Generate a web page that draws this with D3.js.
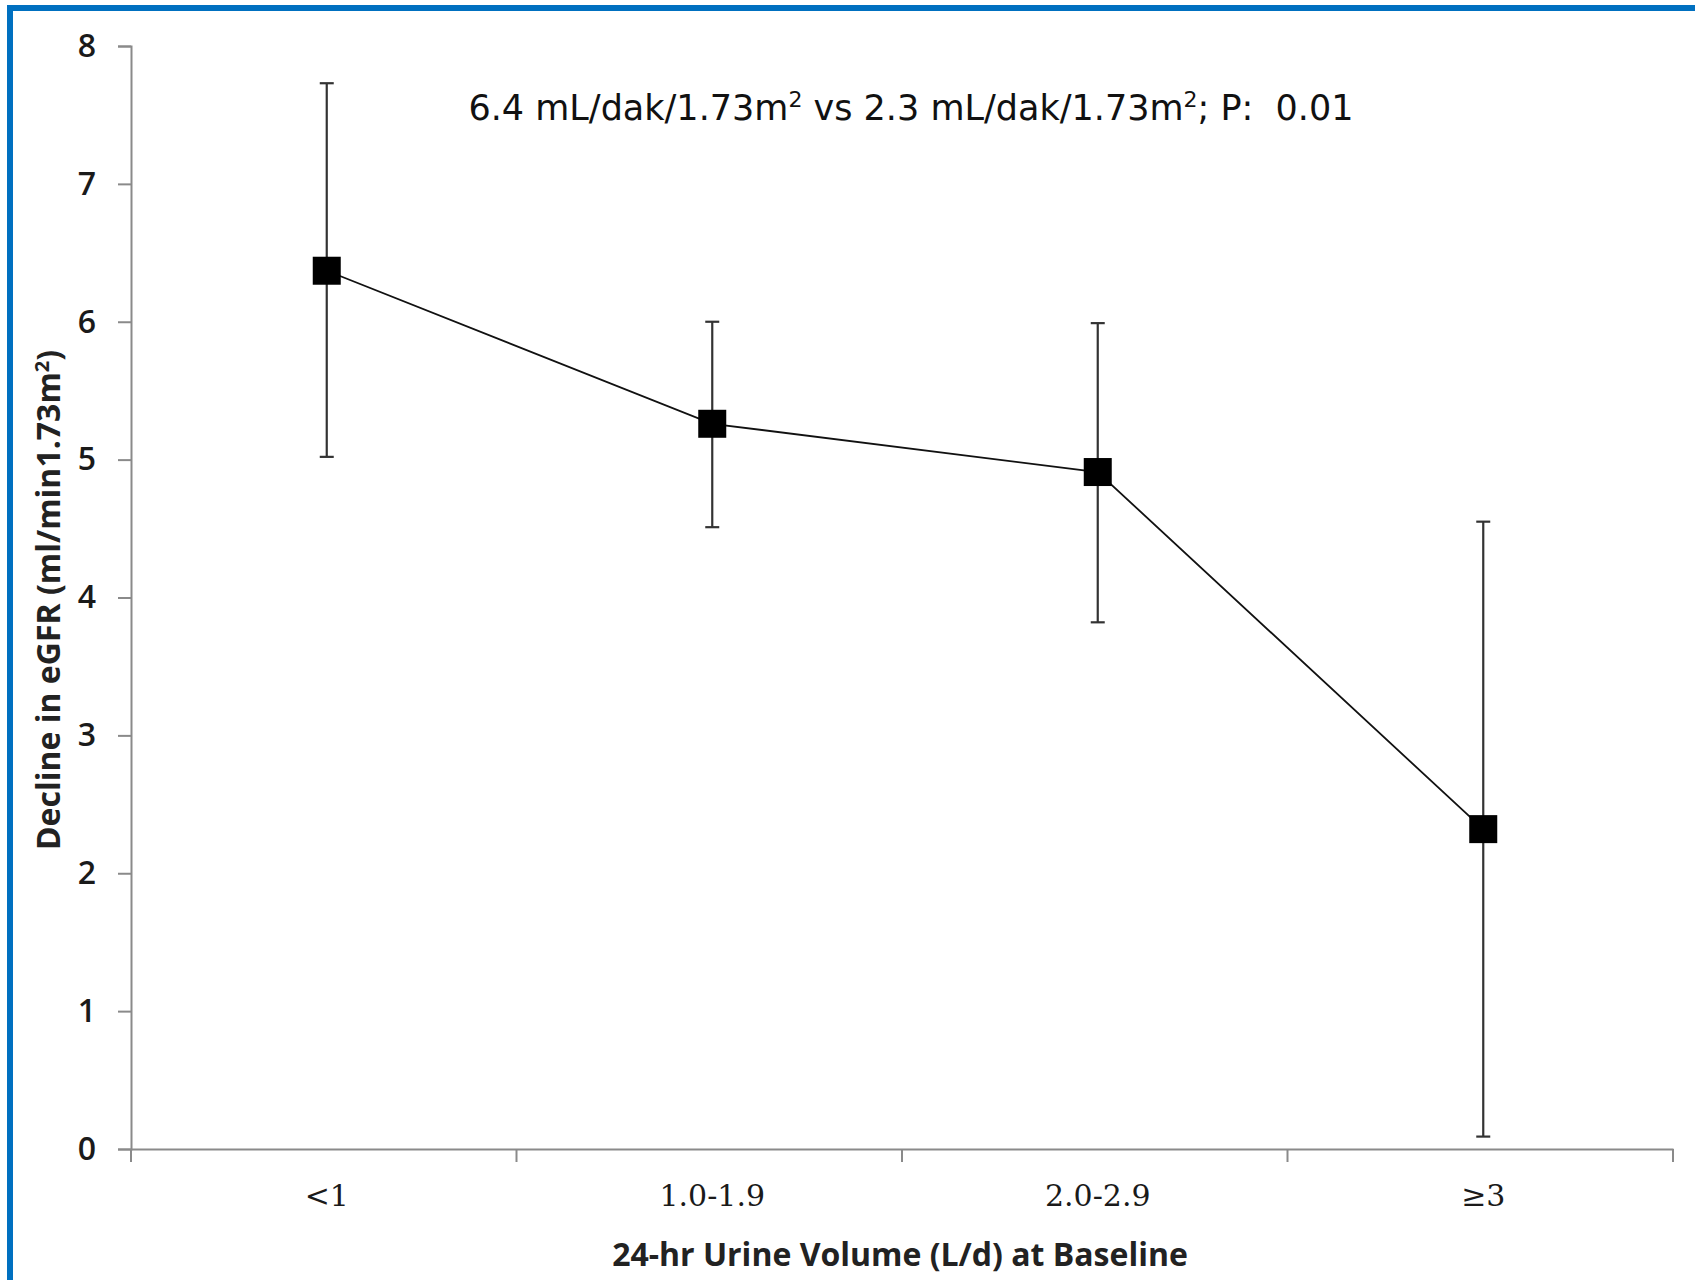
<!doctype html>
<html>
  <head>
    <script src="https://cdnjs.cloudflare.com/ajax/libs/d3/7.8.5/d3.min.js"></script>
    <style>
      body { margin: 0; background: #fff; }
    </style>
  </head>
  <body>
    <svg style="height: 1280px; width: 1695px;"></svg>

    <script>
        var categories = ["<1", "1.0-1.9", "2.0-2.9", "\u22653"];
        var means = [6.37, 5.26, 4.91, 2.32];
        var upper = [7.73, 6.0, 5.99, 4.55];
        var lower = [5.02, 4.51, 3.82, 0.09];
        var yTicks = [0, 1, 2, 3, 4, 5, 6, 7, 8];

        var data = categories.map((c, i) => ({cat: c, mean: means[i], hi: upper[i], lo: lower[i]}));

        var svg = d3.select("svg");

        // blue frame, runs off the right and bottom edge
        svg.append("rect")
            .attr("x", 10).attr("y", 8)
            .attr("width", 1720).attr("height", 1320)
            .attr("fill", "none")
            .attr("stroke", "#0070c0")
            .attr("stroke-width", 6);

        var plotLeft = 131, plotRight = 1673, plotTop = 46, plotBottom = 1149;

        var x = d3.scaleBand().domain(categories).range([plotLeft, plotRight]);
        var y = d3.scaleLinear().domain([0, 8]).range([plotBottom, plotTop]);

        // y axis
        var yAxis = svg.append("g")
            .attr("transform", `translate(${plotLeft},0)`)
            .call(d3.axisLeft(y).tickValues(yTicks).tickSize(13).tickPadding(22).tickFormat(d3.format("d")));
        yAxis.select(".domain").attr("stroke", "#8a8a8a").attr("stroke-width", 2);
        yAxis.selectAll(".tick line").attr("stroke", "#8a8a8a").attr("stroke-width", 2);
        yAxis.selectAll("text")
            .attr("fill", "#1a1a1a")
            .style("font-family", "'Open Sans', sans-serif")
            .style("font-weight", "600")
            .style("font-size", "32px");

        // x axis with ticks at category boundaries
        var xAxis = svg.append("g")
            .attr("transform", `translate(0,${plotBottom})`)
            .call(d3.axisBottom(x).tickSize(0).tickPadding(36));
        xAxis.select(".domain").attr("stroke", "#8a8a8a").attr("stroke-width", 2);
        xAxis.selectAll("text")
            .attr("fill", "#1a1a1a")
            .attr("dx", 3)
            .style("font-family", "'DejaVu Serif', serif")
            .style("font-size", "30px");
        var bounds = categories.map(c => x(c)).concat([plotRight]);
        xAxis.selectAll(".bound")
            .data(bounds)
            .enter()
            .append("line")
            .attr("x1", d => d).attr("x2", d => d)
            .attr("y1", 0).attr("y2", 13)
            .attr("stroke", "#8a8a8a")
            .attr("stroke-width", 2);

        var cx = d => x(d.cat) + x.bandwidth() / 2 + 3;

        // error bars
        var eb = svg.append("g").selectAll("g")
            .data(data)
            .enter()
            .append("g");
        eb.append("line")
            .attr("x1", cx).attr("x2", cx)
            .attr("y1", d => y(d.hi)).attr("y2", d => y(d.lo))
            .attr("stroke", "#333").attr("stroke-width", 2.2);
        eb.append("line")
            .attr("x1", d => cx(d) - 7).attr("x2", d => cx(d) + 7)
            .attr("y1", d => y(d.hi)).attr("y2", d => y(d.hi))
            .attr("stroke", "#333").attr("stroke-width", 2.2);
        eb.append("line")
            .attr("x1", d => cx(d) - 7).attr("x2", d => cx(d) + 7)
            .attr("y1", d => y(d.lo)).attr("y2", d => y(d.lo))
            .attr("stroke", "#333").attr("stroke-width", 2.2);

        // connecting line
        svg.append("path")
            .datum(data)
            .attr("fill", "none")
            .attr("stroke", "#111")
            .attr("stroke-width", 1.8)
            .attr("d", d3.line().x(cx).y(d => y(d.mean)));

        // square markers
        svg.append("g").selectAll("rect")
            .data(data)
            .enter()
            .append("rect")
            .attr("x", d => cx(d) - 14).attr("y", d => y(d.mean) - 14)
            .attr("width", 28).attr("height", 28)
            .attr("fill", "#000");

        // annotation
        var ann = svg.append("text")
            .attr("x", 911).attr("y", 120)
            .attr("text-anchor", "middle")
            .attr("fill", "#111")
            .style("font-family", "'DejaVu Sans', sans-serif")
            .style("font-size", "35px");
        ann.append("tspan").text("6.4 mL/dak/1.73m");
        ann.append("tspan").attr("dy", -13).style("font-size", "22px").text("2");
        ann.append("tspan").attr("dy", 13).text(" vs 2.3 mL/dak/1.73m");
        ann.append("tspan").attr("dy", -13).style("font-size", "22px").text("2");
        ann.append("tspan").attr("dy", 13).text(";  P:\u00a0 0.01");

        // axis titles
        svg.append("text")
            .attr("x", 900).attr("y", 1266)
            .attr("text-anchor", "middle")
            .attr("fill", "#222")
            .style("font-family", "'Open Sans', sans-serif")
            .style("font-weight", "bold")
            .style("font-size", "32px")
            .text("24-hr Urine Volume (L/d) at Baseline");

        var yt = svg.append("text")
            .attr("transform", "translate(60,600) rotate(-90)")
            .attr("text-anchor", "middle")
            .attr("fill", "#222")
            .style("font-family", "'Open Sans', sans-serif")
            .style("font-weight", "bold")
            .style("font-size", "32px");
        yt.append("tspan").text("Decline in eGFR (ml/min1.73m");
        yt.append("tspan").attr("dy", -11).style("font-size", "20px").text("2");
        yt.append("tspan").attr("dy", 11).text(")");
    </script>
  </body>
</html>
